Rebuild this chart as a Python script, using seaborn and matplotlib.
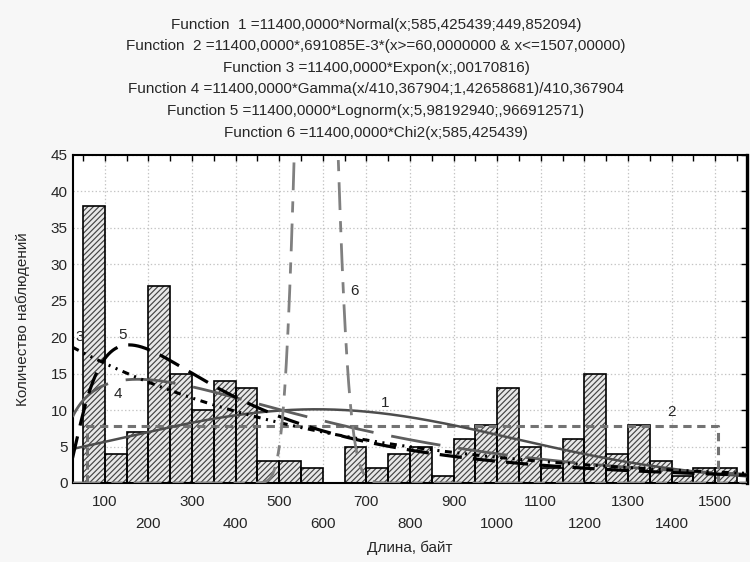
import math
import numpy as np
import pandas as pd
import matplotlib
matplotlib.use("Agg")
import matplotlib.pyplot as plt
import seaborn as sns

# ---- observed histogram: packet length, 50-byte bins from 50 to 1550 ----
bin_left = [50, 100, 150, 200, 250, 300, 350, 400, 450, 500,
            550, 600, 650, 700, 750, 800, 850, 900, 950, 1000,
            1050, 1100, 1150, 1200, 1250, 1300, 1350, 1400, 1450, 1500]
counts = [38, 4, 7, 27, 15, 10, 14, 13, 3, 3,
          2, 0, 5, 2, 4, 5, 1, 6, 8, 13,
          5, 2, 6, 15, 4, 8, 3, 1, 2, 2]
bin_width = 50

# ---- fitted distributions (scale = N * bin width) ----
scale = 11400.0
norm_mu, norm_sd = 585.425439, 449.852094
unif_lo, unif_hi, unif_dens = 60.0, 1507.0, 0.691085e-3
exp_lambda = 0.00170816
gamma_scale, gamma_shape = 410.367904, 1.42658681
logn_mu, logn_sigma = 5.98192940, 0.966912571
chi2_df = 585.425439

title_lines = [
    "Function  1 =11400,0000*Normal(x;585,425439;449,852094)",
    "Function  2 =11400,0000*,691085E-3*(x>=60,0000000 & x<=1507,00000)",
    "Function 3 =11400,0000*Expon(x;,00170816)",
    "Function 4 =11400,0000*Gamma(x/410,367904;1,42658681)/410,367904",
    "Function 5 =11400,0000*Lognorm(x;5,98192940;,966912571)",
    "Function 6 =11400,0000*Chi2(x;585,425439)",
]
x_ticks = list(range(100, 1600, 100))
y_ticks = list(range(0, 50, 5))
x_label = "Длина, байт"
y_label = "Количество наблюдений"

sns.set_style("white")
plt.rcParams["font.family"] = ["Liberation Sans", "DejaVu Sans"]
plt.rcParams["hatch.linewidth"] = 0.85
plt.rcParams["lines.scale_dashes"] = False

fig = plt.figure(figsize=(7.5, 5.62), dpi=100, facecolor="#f7f7f7")
ax = fig.add_axes([0.0967, 0.1406, 0.8993, 0.5836])
ax.set_facecolor("white")

xlim = (26, 1573)
ylim = (0, 45)

edges = [float(b) for b in bin_left] + [float(bin_left[-1] + bin_width)]
hist_df = pd.DataFrame({"length": np.array(bin_left, dtype=float) + bin_width / 2,
                        "count": np.array(counts, dtype=float)})

# hatched fill, then black outlines on top
sns.histplot(data=hist_df, x="length", weights="count", bins=edges, ax=ax,
             color="#e8e8e8", alpha=1, edgecolor="#444444", linewidth=0,
             hatch="//////", zorder=2)
sns.histplot(data=hist_df, x="length", weights="count", bins=edges, ax=ax,
             fill=False, color="black", linewidth=1.2, zorder=3)

# ---- density curves ----
xs = np.linspace(xlim[0], xlim[1], 1200)

y_norm = scale * np.exp(-0.5 * ((xs - norm_mu) / norm_sd) ** 2) / (norm_sd * math.sqrt(2 * math.pi))
y_exp = scale * exp_lambda * np.exp(-exp_lambda * xs)
z = xs / gamma_scale
y_gamma = scale * z ** (gamma_shape - 1) * np.exp(-z) / (math.gamma(gamma_shape) * gamma_scale)
y_logn = scale * np.exp(-0.5 * ((np.log(xs) - logn_mu) / logn_sigma) ** 2) / (xs * logn_sigma * math.sqrt(2 * math.pi))
k2 = chi2_df / 2
log_chi = (k2 - 1) * np.log(xs) - xs / 2 - k2 * math.log(2) - math.lgamma(k2)
y_chi = scale * np.exp(log_chi)
ux = np.array([unif_lo, unif_lo, unif_hi, unif_hi])
uy = np.array([0, scale * unif_dens, scale * unif_dens, 0])

def curve(x, y, color, lw, ls):
    sns.lineplot(x=x, y=y, ax=ax, color=color, linewidth=lw, linestyle=ls,
                 estimator=None, sort=False, zorder=4)

curve(ux, uy, "#737373", 2.2, (0, (6, 4)))
curve(xs, y_norm, "#4d4d4d", 1.8, "-")
curve(xs, y_gamma, "#5e5e5e", 2.0, (0, (36, 13)))
curve(xs, y_exp, "black", 2.2, (0, (5, 4, 1.5, 4, 1.5, 4)))
curve(xs, y_logn, "black", 2.3, (0, (16, 8)))
curve(xs, y_chi, "#808080", 2.0, (0, (20, 8, 8, 8)))

# curve numbers
for txt, (tx, ty) in zip(["1", "2", "3", "4", "5", "6"],
                         [(743, 11.0), (1400, 9.7), (43, 20.0),
                          (130, 12.2), (141, 20.3), (672, 26.4)]):
    ax.text(tx, ty, txt, fontsize=11, ha="center", va="center", zorder=6)

ax.set_xlim(*xlim)
ax.set_ylim(*ylim)
ax.set_xticks(x_ticks)
ax.set_xticklabels([str(t) if i % 2 == 0 else "\n" + str(t) for i, t in enumerate(x_ticks)])
for lab in ax.get_xticklabels():
    lab.set_linespacing(1.65)
ax.set_xticks(np.arange(50, 1600, 50), minor=True)
ax.set_yticks(y_ticks)
ax.tick_params(axis="both", which="both", direction="in", top=True, right=True,
               length=4, width=1, labelsize=11, color="black")
ax.tick_params(axis="x", which="major", pad=9)
ax.grid(True, which="major", color="#c4c4c4", linestyle=":", linewidth=0.9, zorder=0)
ax.set_axisbelow(True)
for side, sp in ax.spines.items():
    sp.set_visible(True)
    sp.set_color("black")
    sp.set_linewidth(1.5)
ax.spines["right"].set_linewidth(2.4)

ax.set_xlabel(x_label, fontsize=11, labelpad=7)
ax.set_ylabel(y_label, fontsize=11, labelpad=15)

for i, line in enumerate(title_lines):
    fig.text(0.5013, 1 - (24.5 + 21.6 * i) / 562, line, ha="center", va="center", fontsize=11)

fig.savefig("out.png", dpi=100, facecolor=fig.get_facecolor())
